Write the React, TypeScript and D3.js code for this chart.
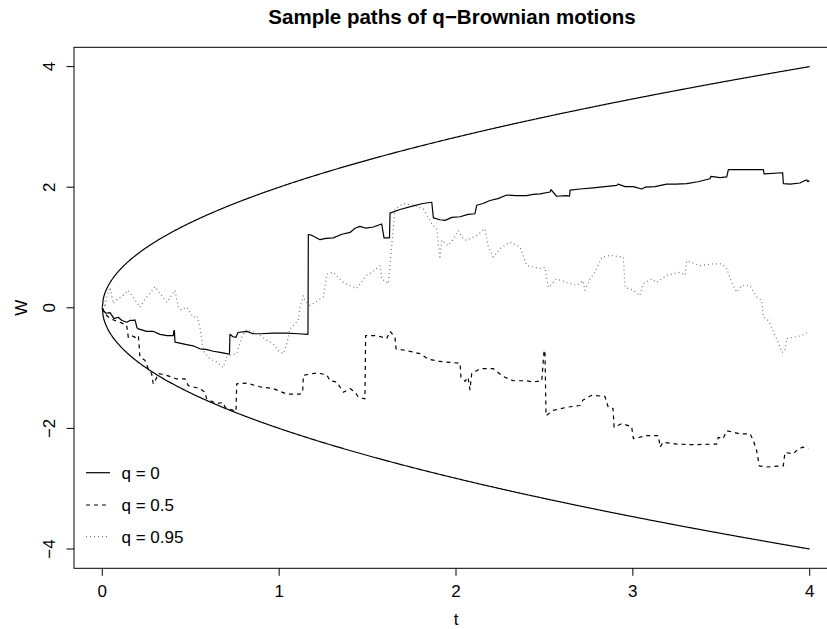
import React from "react";
import * as d3 from "d3";

const title = "Sample paths of q\u2212Brownian motions";
const xLabel = "t";
const yLabel = "W";
const xTicks = [0, 1, 2, 3, 4];
const yTicks = [-4, -2, 0, 2, 4];
const legendLabels = ["q = 0", "q = 0.5", "q = 0.95"];

// q = 0 path (t, W)
const pathQ0: [number, number][] = [
  [0, 0], [0.006, -0.045], [0.02, -0.09], [0.044, -0.08], [0.066, -0.18], [0.09, -0.156],
  [0.111, -0.21], [0.138, -0.24], [0.157, -0.21], [0.174, -0.21], [0.185, -0.2], [0.196, -0.33],
  [0.204, -0.35], [0.251, -0.39], [0.287, -0.39], [0.326, -0.44], [0.366, -0.46], [0.401, -0.46],
  [0.405, -0.38], [0.408, -0.38], [0.411, -0.57], [0.477, -0.61], [0.513, -0.63], [0.552, -0.68],
  [0.586, -0.69], [0.628, -0.72], [0.666, -0.74], [0.703, -0.76], [0.719, -0.77], [0.722, -0.44],
  [0.739, -0.48], [0.756, -0.49], [0.767, -0.41], [0.817, -0.39], [0.852, -0.43], [0.892, -0.43],
  [0.967, -0.42], [1.043, -0.42], [1.107, -0.43], [1.163, -0.44], [1.165, 1.216], [1.186, 1.2],
  [1.231, 1.13], [1.265, 1.15], [1.306, 1.16], [1.355, 1.22], [1.401, 1.25], [1.429, 1.32],
  [1.457, 1.35], [1.491, 1.32], [1.532, 1.34], [1.58, 1.39], [1.593, 1.16], [1.624, 1.16],
  [1.627, 1.57], [1.683, 1.63], [1.759, 1.69], [1.813, 1.73], [1.863, 1.75], [1.872, 1.49],
  [1.909, 1.46], [1.938, 1.45], [1.977, 1.5], [2.023, 1.51], [2.068, 1.55], [2.107, 1.56],
  [2.117, 1.7], [2.153, 1.73], [2.192, 1.78], [2.237, 1.81], [2.287, 1.87], [2.339, 1.86],
  [2.4, 1.86], [2.435, 1.88], [2.475, 1.89], [2.532, 1.92], [2.537, 1.96], [2.569, 1.85],
  [2.626, 1.86], [2.642, 1.85], [2.645, 1.95], [2.701, 1.97], [2.776, 1.99], [2.842, 2.01],
  [2.909, 2.03], [2.916, 2.05], [2.956, 2.01], [3.003, 2.01], [3.05, 1.97], [3.069, 2.0],
  [3.125, 2.01], [3.191, 2.05], [3.244, 2.05], [3.305, 2.06], [3.368, 2.09], [3.436, 2.14],
  [3.442, 2.18], [3.493, 2.16], [3.531, 2.17], [3.54, 2.29], [3.634, 2.29], [3.738, 2.29],
  [3.742, 2.22], [3.847, 2.24], [3.851, 2.06], [3.889, 2.05], [3.945, 2.07], [3.973, 2.11],
  [3.983, 2.12], [3.99, 2.09], [3.998, 2.11],
];

// q = 0.5 path (t, W)
const pathQ05: [number, number][] = [
  [0, 0], [0.015, -0.1], [0.044, -0.18], [0.072, -0.21], [0.1, -0.24], [0.138, -0.29],
  [0.147, -0.49], [0.166, -0.46], [0.185, -0.49], [0.204, -0.46], [0.213, -0.82], [0.241, -0.87],
  [0.26, -1.01], [0.279, -1.09], [0.288, -1.26], [0.298, -1.22], [0.317, -1.09], [0.364, -1.12],
  [0.421, -1.18], [0.468, -1.18], [0.486, -1.29], [0.552, -1.34], [0.581, -1.4], [0.59, -1.51],
  [0.647, -1.59], [0.684, -1.57], [0.694, -1.65], [0.756, -1.72], [0.76, -1.26], [0.817, -1.25],
  [0.892, -1.31], [0.967, -1.34], [1.043, -1.43], [1.118, -1.43], [1.133, -1.4], [1.137, -1.12],
  [1.212, -1.08], [1.269, -1.11], [1.288, -1.21], [1.325, -1.23], [1.363, -1.4], [1.401, -1.34],
  [1.429, -1.4], [1.448, -1.48], [1.485, -1.51], [1.489, -0.46], [1.552, -0.46], [1.608, -0.51],
  [1.627, -0.39], [1.655, -0.49], [1.661, -0.68], [1.721, -0.71], [1.796, -0.76], [1.843, -0.85],
  [1.909, -0.89], [2.023, -0.92], [2.028, -1.15], [2.051, -1.22], [2.068, -1.15], [2.079, -1.36],
  [2.089, -1.09], [2.136, -1.01], [2.211, -1.01], [2.267, -1.14], [2.324, -1.21], [2.4, -1.21],
  [2.437, -1.23], [2.485, -1.21], [2.498, -0.71], [2.503, -0.71], [2.509, -1.79], [2.55, -1.7],
  [2.626, -1.65], [2.701, -1.62], [2.718, -1.53], [2.767, -1.45], [2.842, -1.47], [2.861, -1.65],
  [2.888, -1.67], [2.894, -1.98], [2.937, -1.92], [2.993, -1.97], [3.003, -2.17], [3.078, -2.12],
  [3.144, -2.12], [3.154, -2.31], [3.17, -2.23], [3.248, -2.26], [3.342, -2.27], [3.474, -2.26],
  [3.483, -2.15], [3.51, -2.17], [3.531, -2.04], [3.606, -2.09], [3.663, -2.09], [3.681, -2.2],
  [3.7, -2.37], [3.715, -2.62], [3.757, -2.64], [3.851, -2.62], [3.86, -2.4], [3.907, -2.42],
  [3.936, -2.34], [3.962, -2.31], [3.992, -2.34],
];

// q = 0.95 path (t, W)
const pathQ095: [number, number][] = [
  [0, 0], [0.007, 0.12], [0.015, 0.01], [0.027, 0.2], [0.044, 0.34], [0.062, 0.07],
  [0.089, 0.15], [0.111, 0.19], [0.147, 0.29], [0.174, 0.18], [0.213, 0.01], [0.251, 0.18],
  [0.27, 0.24], [0.298, 0.35], [0.326, 0.24], [0.364, 0.09], [0.411, 0.29], [0.43, 0.01],
  [0.449, -0.04], [0.477, 0.01], [0.515, -0.16], [0.534, -0.13], [0.552, -0.32], [0.571, -0.71],
  [0.609, -0.85], [0.647, -0.9], [0.684, -0.99], [0.703, -0.82], [0.722, -0.79], [0.76, -0.76],
  [0.788, -0.49], [0.817, -0.36], [0.854, -0.4], [0.892, -0.46], [0.93, -0.54], [0.967, -0.6],
  [0.995, -0.71], [1.023, -0.76], [1.043, -0.6], [1.061, -0.35], [1.108, -0.21], [1.118, 0.01],
  [1.137, 0.2], [1.146, 0.12], [1.174, 0.04], [1.193, 0.07], [1.25, 0.18], [1.269, 0.56],
  [1.306, 0.59], [1.363, 0.42], [1.401, 0.37], [1.438, 0.32], [1.495, 0.54], [1.531, 0.6],
  [1.57, 0.7], [1.58, 0.48], [1.617, 0.4], [1.636, 1.01], [1.655, 1.64], [1.702, 1.73],
  [1.759, 1.7], [1.815, 1.64], [1.863, 1.39], [1.891, 1.31], [1.909, 0.81], [1.919, 1.12],
  [1.955, 1.03], [1.985, 1.14], [2.013, 1.28], [2.041, 1.14], [2.06, 1.12], [2.117, 1.2],
  [2.164, 1.31], [2.183, 1.01], [2.211, 0.84], [2.249, 0.98], [2.305, 1.09], [2.362, 1.01],
  [2.4, 0.7], [2.475, 0.65], [2.503, 0.67], [2.522, 0.34], [2.569, 0.48], [2.626, 0.42],
  [2.683, 0.37], [2.718, 0.45], [2.729, 0.29], [2.758, 0.48], [2.786, 0.59], [2.824, 0.84],
  [2.871, 0.87], [2.946, 0.84], [2.956, 0.34], [3.003, 0.29], [3.04, 0.2], [3.059, 0.4],
  [3.107, 0.48], [3.135, 0.42], [3.191, 0.54], [3.267, 0.59], [3.295, 0.54], [3.305, 0.78],
  [3.38, 0.7], [3.456, 0.73], [3.502, 0.73], [3.531, 0.65], [3.559, 0.42], [3.587, 0.26],
  [3.616, 0.37], [3.662, 0.37], [3.7, 0.18], [3.729, 0.12], [3.738, -0.16], [3.766, -0.21],
  [3.794, -0.4], [3.822, -0.57], [3.842, -0.74], [3.86, -0.71], [3.87, -0.51], [3.907, -0.49],
  [3.955, -0.46], [3.992, -0.4],
];

const envelopeFactor = 2; // boundary curves W = ±2·sqrt(t)
const tMax = 4;

const W = 827;
const H = 629;
const plot = { left: 74, right: 838, top: 47.3, bottom: 568.3 };
const FONT = "'Liberation Sans', Arial, Helvetica, sans-serif";
const FS = 17;

export default function App() {
  const x = d3.scaleLinear().domain([-0.16, 4.16]).range([plot.left, plot.right]);
  const y = d3.scaleLinear().domain([-4.32, 4.32]).range([plot.bottom, plot.top]);
  const line = d3
    .line<[number, number]>()
    .x((d) => x(d[0]))
    .y((d) => y(d[1]));

  const grid = d3.range(0, 801).map((i) => (i / 800) * tMax);
  const upper: [number, number][] = grid.map((t) => [t, envelopeFactor * Math.sqrt(t)]);
  const lower: [number, number][] = grid.map((t) => [t, -envelopeFactor * Math.sqrt(t)]);

  const series = [
    { data: pathQ0, stroke: "#000", dash: undefined as string | undefined },
    { data: pathQ05, stroke: "#000", dash: "4,4" },
    { data: pathQ095, stroke: "#777", dash: "1,3" },
  ];

  const legendX0 = 86;
  const legendX1 = 110;
  const legendTextX = 121.5;
  const legendRows = [472.7, 505, 536.7];

  return (
    <svg
      width={W}
      height={H}
      style={{ position: "absolute", left: 0, top: 0, background: "#fff" }}
      fontFamily={FONT}
    >
      <rect x={0} y={0} width={W} height={H} fill="#fff" />
      <text x={452} y={23.5} textAnchor="middle" fontSize={20.5} fontWeight="bold" fill="#000">
        {title}
      </text>
      <path d={line(upper) || ""} fill="none" stroke="#000" strokeWidth={1.2} />
      <path d={line(lower) || ""} fill="none" stroke="#000" strokeWidth={1.2} />
      {series.map((s, i) => (
        <path
          key={i}
          d={line(s.data) || ""}
          fill="none"
          stroke={s.stroke}
          strokeWidth={1.2}
          strokeDasharray={s.dash}
          strokeLinejoin="round"
        />
      ))}
      <rect
        x={plot.left}
        y={plot.top}
        width={plot.right - plot.left}
        height={plot.bottom - plot.top}
        fill="none"
        stroke="#000"
        strokeWidth={1}
      />
      {xTicks.map((t) => (
        <g key={t}>
          <line x1={x(t)} x2={x(t)} y1={plot.bottom} y2={plot.bottom + 7.5} stroke="#000" />
          <text x={x(t)} y={596.7} textAnchor="middle" fontSize={FS} fill="#000">
            {t}
          </text>
        </g>
      ))}
      <text x={x(2)} y={625} textAnchor="middle" fontSize={FS} fill="#000">
        {xLabel}
      </text>
      {yTicks.map((v) => (
        <g key={v}>
          <line x1={plot.left - 7.5} x2={plot.left} y1={y(v)} y2={y(v)} stroke="#000" />
          <text
            transform={`translate(55,${y(v)}) rotate(-90)`}
            textAnchor="middle"
            fontSize={FS}
            fill="#000"
          >
            {v < 0 ? `\u2212${Math.abs(v)}` : `${v}`}
          </text>
        </g>
      ))}
      <text transform={`translate(26.5,${y(0)}) rotate(-90)`} textAnchor="middle" fontSize={FS} fill="#000">
        {yLabel}
      </text>
      {series.map((s, i) => (
        <g key={i}>
          <line
            x1={legendX0}
            x2={legendX1}
            y1={legendRows[i]}
            y2={legendRows[i]}
            stroke={s.stroke}
            strokeWidth={1.2}
            strokeDasharray={s.dash}
          />
          <text x={legendTextX} y={legendRows[i] + 6} fontSize={FS} fill="#000">
            {legendLabels[i]}
          </text>
        </g>
      ))}
    </svg>
  );
}
